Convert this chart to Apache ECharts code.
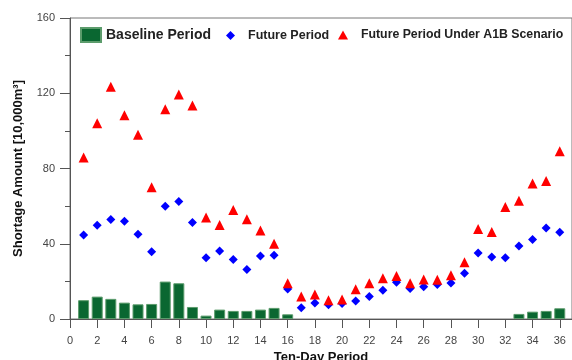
<!DOCTYPE html>
<html>
<head>
<meta charset="utf-8">
<script src="https://cdn.jsdelivr.net/npm/echarts@6/dist/echarts.min.js"></script>
<style>
  html, body { margin: 0; padding: 0; background: #fff; }
  #chart { width: 572px; height: 360px; }
</style>
</head>
<body>
<div id="chart"></div>
<script>
// Ten-day periods 1..36
const periods = [1,2,3,4,5,6,7,8,9,10,11,12,13,14,15,16,17,18,19,20,21,22,23,24,25,26,27,28,29,30,31,32,33,34,35,36];

const baseline = [10,11.9,10.7,8.7,7.8,8,19.9,19,6.4,1.8,5,4.3,4.3,5,5.9,2.5,
  0,0,0,0,0,0,0,0,0,0,0,0,0,0,0,0,2.7,3.9,4.3,5.7];

const future = [44.7,49.8,52.9,52,45,35.8,60,62.4,51.3,32.5,36.2,31.6,26.3,33.5,33.9,16,
  6,8.5,7.6,8.2,9.6,11.9,15.3,19.5,16.2,17.2,18.3,19.2,24.3,35.1,33,32.5,38.8,42.2,48.4,46.1];

const futureA1B = [85.8,104,123.4,108.3,98,70,111.5,119.4,113.5,54,50,58,53,47,40,19,
  12,13,10,10.3,15.8,19,21.7,22.9,19,21,20.8,23.2,30.2,47.9,46.3,59.6,62.8,72,73.4,89.2];

const yTicks = { min: 0, max: 160, interval: 40 };

const font = 'Liberation Sans, Arial, sans-serif';

const pairs = (vals) => periods.map((p, i) => [p, vals[i]]);

const option = {
  animation: false,
  textStyle: { fontFamily: font },
  grid: {
    left: 70,
    right: 0,
    top: 18,
    bottom: 41,
    outerBoundsMode: 'none',
    containLabel: false,
    show: true,
    borderColor: '#777',
    borderWidth: 1
  },
  legend: [
    {
      left: 75,
      top: 22,
      itemWidth: 20,
      itemHeight: 14,
      data: [{ name: 'Baseline Period', icon: 'rect' }],
      textStyle: { fontFamily: font, fontSize: 14, fontWeight: 'bold', color: '#222' }
    },
    {
      left: 221,
      top: 24,
      itemWidth: 9,
      itemHeight: 9,
      data: [{ name: 'Future Period', icon: 'diamond' }],
      textStyle: { fontFamily: font, fontSize: 12.5, fontWeight: 'bold', color: '#222', padding: [0, 0, 0, 8] }
    },
    {
      left: 333,
      top: 24,
      itemWidth: 10,
      itemHeight: 9,
      data: [{ name: 'Future Period Under A1B Scenario', icon: 'triangle' }],
      textStyle: { fontFamily: font, fontSize: 12.3, fontWeight: 'bold', color: '#222', padding: [0, 0, 0, 8] }
    }
  ],
  xAxis: {
    type: 'value',
    min: 0,
    max: 36.9,
    interval: 2,
    name: 'Ten-Day Period',
    nameLocation: 'middle',
    nameGap: 31,
    nameTextStyle: { fontFamily: font, fontSize: 13, fontWeight: 'bold', color: '#111' },
    axisLine: { lineStyle: { color: '#555' } },
    axisTick: { inside: false, length: 9, lineStyle: { color: '#555' } },
    axisLabel: { showMaxLabel: false, margin: 16, fontSize: 11, color: '#444' },
    splitLine: { show: false }
  },
  yAxis: {
    type: 'value',
    min: yTicks.min,
    max: yTicks.max,
    interval: yTicks.interval,
    name: 'Shortage Amount [10,000m³]',
    nameLocation: 'middle',
    nameGap: 45,
    nameTextStyle: { fontFamily: font, fontSize: 13, fontWeight: 'bold', color: '#111' },
    axisLine: { show: true, lineStyle: { color: '#555' } },
    axisTick: { show: true, length: 10, lineStyle: { color: '#555' } },
    minorTick: { show: true, splitNumber: 2, length: 5, lineStyle: { color: '#555' } },
    axisLabel: { margin: 15, fontSize: 11, color: '#444' },
    splitLine: { show: false }
  },
  series: [
    {
      name: 'Baseline Period',
      type: 'bar',
      data: pairs(baseline).filter(d => d[1] > 0),
      barWidth: 11,
      itemStyle: { color: '#0a6731', borderColor: '#5c9c6c', borderWidth: 1 }
    },
    {
      name: 'Future Period',
      type: 'scatter',
      data: pairs(future),
      symbol: 'diamond',
      symbolSize: 9,
      itemStyle: { color: '#0000ff', opacity: 1 }
    },
    {
      name: 'Future Period Under A1B Scenario',
      type: 'scatter',
      data: pairs(futureA1B),
      symbol: 'triangle',
      symbolSize: 10,
      itemStyle: { color: '#ff0000', opacity: 1 }
    }
  ]
};

const chart = echarts.init(document.getElementById('chart'));
chart.setOption(option);
window.addEventListener('resize', () => chart.resize());
</script>
</body>
</html>
